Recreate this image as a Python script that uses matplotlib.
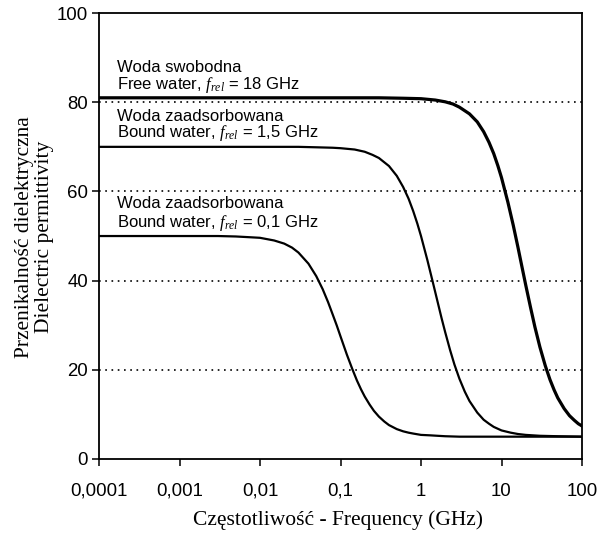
import matplotlib.pyplot as plt
from matplotlib.ticker import FixedLocator, NullLocator

plt.rcParams['mathtext.fontset'] = 'custom'
plt.rcParams['mathtext.it'] = 'Liberation Serif:italic'
plt.rcParams['mathtext.rm'] = 'Liberation Serif'

# Values (frequency in GHz, permittivity)
free_f = [0.0001, 0.001, 0.01, 0.1, 0.3, 0.6, 1, 1.5, 2, 2.5, 3, 4, 5, 6, 7,
          8, 9, 10, 12, 14, 16, 18, 20, 23, 26, 30, 35, 40, 45, 50, 60, 70,
          80, 90, 100]
free_eps = [81.0, 81.0, 81.0, 81.0, 81.0, 80.9, 80.8, 80.5, 80.1, 79.6, 78.9,
            77.4, 75.6, 73.4, 71.0, 68.5, 65.8, 63.1, 57.6, 52.4, 47.5, 43.0,
            39.0, 33.9, 29.6, 25.1, 20.9, 17.8, 15.5, 13.7, 11.3, 9.7, 8.7,
            7.9, 7.4]

bound15_f = [0.0001, 0.001, 0.01, 0.03, 0.05, 0.08, 0.1, 0.15, 0.2, 0.25,
             0.3, 0.4, 0.5, 0.6, 0.7, 0.8, 0.9, 1, 1.2, 1.4, 1.6, 1.8, 2, 2.3,
             2.6, 3, 3.5, 4, 5, 6, 7, 8, 10, 13, 16, 20, 30, 50, 100]
bound15_eps = [70.0, 70.0, 70.0, 70.0, 69.9, 69.8, 69.7, 69.4, 68.9, 68.2,
               67.5, 65.7, 63.5, 61.0, 58.4, 55.6, 52.8, 50.0, 44.6, 39.7,
               35.4, 31.6, 28.4, 24.4, 21.2, 18.0, 15.1, 13.0, 10.4, 8.8, 7.9,
               7.2, 6.4, 5.9, 5.6, 5.4, 5.2, 5.1, 5.0]

bound01_f = [0.0001, 0.001, 0.003, 0.005, 0.008, 0.01, 0.015, 0.02, 0.025,
             0.03, 0.04, 0.05, 0.06, 0.07, 0.08, 0.09, 0.1, 0.12, 0.14, 0.16,
             0.18, 0.2, 0.23, 0.26, 0.3, 0.35, 0.4, 0.5, 0.6, 0.7, 0.8, 1,
             1.3, 1.6, 2, 3, 5, 10, 100]
bound01_eps = [50.0, 50.0, 50.0, 49.9, 49.7, 49.6, 49.0, 48.3, 47.4, 46.3,
               43.8, 41.0, 38.1, 35.2, 32.4, 29.9, 27.5, 23.4, 20.2, 17.6,
               15.6, 14.0, 12.2, 10.8, 9.5, 8.4, 7.6, 6.7, 6.2, 5.9, 5.7, 5.4,
               5.3, 5.2, 5.1, 5.0, 5.0, 5.0, 5.0]

x_ticks = [0.0001, 0.001, 0.01, 0.1, 1, 10, 100]
x_labels = ['0,0001', '0,001', '0,01', '0,1', '1', '10', '100']
y_ticks = [0, 20, 40, 60, 80, 100]
grid_levels = [20, 40, 60, 80]

fig = plt.figure(figsize=(6, 5.34), dpi=100)
ax = fig.add_axes([0.165, 0.1405, 0.805, 0.835])

for g in grid_levels:
    ax.axhline(g, color='black', linestyle=(0, (1, 2.75)), linewidth=1.2,
               zorder=1)

ax.plot(free_f, free_eps, color='black', linewidth=2.3, zorder=3)
ax.plot(bound15_f, bound15_eps, color='black', linewidth=1.6, zorder=3)
ax.plot(bound01_f, bound01_eps, color='black', linewidth=1.6, zorder=3)

ax.set_xscale('log')
ax.set_xlim(0.0001, 100)
ax.set_ylim(0, 100)
ax.xaxis.set_major_locator(FixedLocator(x_ticks))
ax.xaxis.set_minor_locator(NullLocator())
ax.set_xticklabels(x_labels)
ax.set_yticks(y_ticks)
ax.tick_params(direction='out', length=5, width=1.1, labelsize=13.4)
ax.tick_params(axis='x', pad=12)
ax.tick_params(axis='y', pad=3)
for lab in ax.get_xticklabels() + ax.get_yticklabels():
    lab.set_family('Liberation Sans')
for s in ax.spines.values():
    s.set_linewidth(1.3)

txt = dict(fontsize=12, family='Liberation Sans', va='center', ha='left')
tx = 0.000168
ax.text(tx, 87.7, 'Woda swobodna', **txt)
ax.text(tx, 83.8, 'Free water, $f_{rel}$ = 18 GHz', **txt)
ax.text(tx, 76.9, 'Woda zaadsorbowana', **txt)
ax.text(tx, 73.0, 'Bound water, $f_{rel}$ = 1,5 GHz', **txt)
ax.text(tx, 57.2, 'Woda zaadsorbowana', **txt)
ax.text(tx, 53.0, 'Bound water, $f_{rel}$ = 0,1 GHz', **txt)

fig.text(0.563, 0.026, 'Częstotliwość - Frequency (GHz)',
         family='Liberation Serif', fontsize=15.5, ha='center', va='center')
fig.text(0.058, 0.556, 'Przenikalność dielektryczna\nDielectric permittivity',
         family='Liberation Serif', fontsize=15.5, ha='center', va='center',
         rotation=90, linespacing=1.1)

fig.savefig('out.png', dpi=100)
